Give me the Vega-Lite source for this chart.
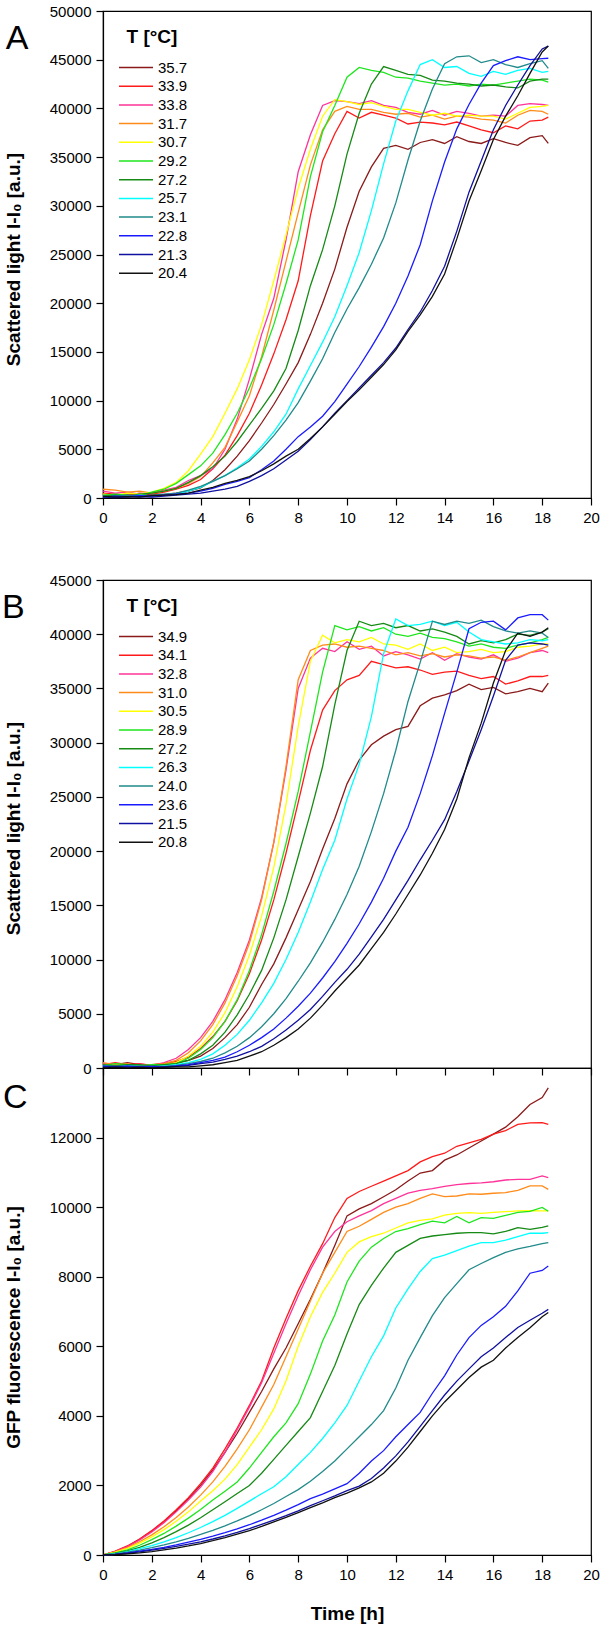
{
"$schema":"https://vega.github.io/schema/vega-lite/v6.json",
"autosize":{"type":"pad"},
"padding":{"left":1,"top":3,"right":1,"bottom":2},
"background":"white",
"bounds":"flush",
"spacing":82,
"config":{
"font":"Liberation Sans",
"view":{"stroke":"#000","strokeWidth":1.2},
"axis":{"grid":false,"domainColor":"#000","tickColor":"#000","labelColor":"#000","titleColor":"#000","labelFont":"Liberation Sans","titleFont":"Liberation Sans","labelFontSize":15,"titleFontSize":19,"titleFontWeight":"bold","tickSize":7,"labelPadding":5,"labelFlush":false,"labelOverlap":false,"domainWidth":1.2,"tickWidth":1.2},
"axisY":{"titleX":-80,"labelPadding":5},
"axisX":{"titlePadding":22,"labelPadding":5},
"legend":{"orient":"none","legendX":23.5,"legendY":17,"padding":0,"titleFontSize":19,"titleFontWeight":"bold","titleColor":"#000","titleFont":"Liberation Sans","labelFont":"Liberation Sans","labelFontSize":15,"labelColor":"#000","symbolType":"M-2,0H2","symbolSize":289,"symbolStrokeWidth":1.5,"rowPadding":0.7,"labelOffset":12.5,"titlePadding":11},
"text":{"font":"Liberation Sans"}
},
"resolve":{"scale":{"color":"independent"},"legend":{"color":"independent"}},
"datasets":{
"A":[
{"s":"35.7","t":0,"v":300},{"s":"35.7","t":0.5,"v":200},{"s":"35.7","t":1,"v":350},{"s":"35.7","t":1.5,"v":250},{"s":"35.7","t":2,"v":400},{"s":"35.7","t":2.5,"v":350},{"s":"35.7","t":3,"v":500},{"s":"35.7","t":3.5,"v":700},{"s":"35.7","t":4,"v":1050},{"s":"35.7","t":4.5,"v":1800},{"s":"35.7","t":5,"v":2900},{"s":"35.7","t":5.5,"v":4300},{"s":"35.7","t":6,"v":5900},{"s":"35.7","t":6.5,"v":7700},{"s":"35.7","t":7,"v":9600},{"s":"35.7","t":7.5,"v":11700},{"s":"35.7","t":8,"v":13900},{"s":"35.7","t":8.5,"v":16800},{"s":"35.7","t":9,"v":20000},{"s":"35.7","t":9.5,"v":23500},{"s":"35.7","t":10,"v":27800},{"s":"35.7","t":10.5,"v":31500},{"s":"35.7","t":11,"v":34000},{"s":"35.7","t":11.5,"v":35900},{"s":"35.7","t":12,"v":36200},{"s":"35.7","t":12.5,"v":35800},{"s":"35.7","t":13,"v":36500},{"s":"35.7","t":13.5,"v":36800},{"s":"35.7","t":14,"v":36400},{"s":"35.7","t":14.5,"v":37100},{"s":"35.7","t":15,"v":36600},{"s":"35.7","t":15.5,"v":36400},{"s":"35.7","t":16,"v":36900},{"s":"35.7","t":16.5,"v":36500},{"s":"35.7","t":17,"v":36200},{"s":"35.7","t":17.5,"v":37000},{"s":"35.7","t":18,"v":37200},{"s":"35.7","t":18.25,"v":36400},
{"s":"33.9","t":0,"v":500},{"s":"33.9","t":0.5,"v":400},{"s":"33.9","t":1,"v":300},{"s":"33.9","t":1.5,"v":500},{"s":"33.9","t":2,"v":400},{"s":"33.9","t":2.5,"v":600},{"s":"33.9","t":3,"v":900},{"s":"33.9","t":3.5,"v":1300},{"s":"33.9","t":4,"v":1900},{"s":"33.9","t":4.5,"v":3000},{"s":"33.9","t":5,"v":4400},{"s":"33.9","t":5.5,"v":6400},{"s":"33.9","t":6,"v":8700},{"s":"33.9","t":6.5,"v":11600},{"s":"33.9","t":7,"v":14800},{"s":"33.9","t":7.5,"v":18300},{"s":"33.9","t":8,"v":22300},{"s":"33.9","t":8.5,"v":29000},{"s":"33.9","t":9,"v":34600},{"s":"33.9","t":9.5,"v":37400},{"s":"33.9","t":10,"v":39700},{"s":"33.9","t":10.5,"v":39000},{"s":"33.9","t":11,"v":39600},{"s":"33.9","t":11.5,"v":39300},{"s":"33.9","t":12,"v":39000},{"s":"33.9","t":12.5,"v":38400},{"s":"33.9","t":13,"v":38600},{"s":"33.9","t":13.5,"v":38500},{"s":"33.9","t":14,"v":38300},{"s":"33.9","t":14.5,"v":38600},{"s":"33.9","t":15,"v":38200},{"s":"33.9","t":15.5,"v":37800},{"s":"33.9","t":16,"v":37500},{"s":"33.9","t":16.5,"v":38200},{"s":"33.9","t":17,"v":37900},{"s":"33.9","t":17.5,"v":38700},{"s":"33.9","t":18,"v":38800},{"s":"33.9","t":18.25,"v":39100},
{"s":"33.8","t":0,"v":700},{"s":"33.8","t":0.5,"v":500},{"s":"33.8","t":1,"v":600},{"s":"33.8","t":1.5,"v":400},{"s":"33.8","t":2,"v":500},{"s":"33.8","t":2.5,"v":800},{"s":"33.8","t":3,"v":1100},{"s":"33.8","t":3.5,"v":1800},{"s":"33.8","t":4,"v":2300},{"s":"33.8","t":4.5,"v":3000},{"s":"33.8","t":5,"v":5000},{"s":"33.8","t":5.5,"v":8100},{"s":"33.8","t":6,"v":12200},{"s":"33.8","t":6.5,"v":16800},{"s":"33.8","t":7,"v":20500},{"s":"33.8","t":7.5,"v":26500},{"s":"33.8","t":8,"v":33500},{"s":"33.8","t":8.5,"v":37300},{"s":"33.8","t":9,"v":40300},{"s":"33.8","t":9.5,"v":40800},{"s":"33.8","t":10,"v":40700},{"s":"33.8","t":10.5,"v":40500},{"s":"33.8","t":11,"v":40800},{"s":"33.8","t":11.5,"v":40300},{"s":"33.8","t":12,"v":40100},{"s":"33.8","t":12.5,"v":39600},{"s":"33.8","t":13,"v":39400},{"s":"33.8","t":13.5,"v":39800},{"s":"33.8","t":14,"v":39300},{"s":"33.8","t":14.5,"v":39700},{"s":"33.8","t":15,"v":39500},{"s":"33.8","t":15.5,"v":39200},{"s":"33.8","t":16,"v":39300},{"s":"33.8","t":16.5,"v":39200},{"s":"33.8","t":17,"v":40300},{"s":"33.8","t":17.5,"v":40500},{"s":"33.8","t":18,"v":40400},{"s":"33.8","t":18.25,"v":40300},
{"s":"31.7","t":0,"v":900},{"s":"31.7","t":0.5,"v":800},{"s":"31.7","t":1,"v":600},{"s":"31.7","t":1.5,"v":700},{"s":"31.7","t":2,"v":500},{"s":"31.7","t":2.5,"v":700},{"s":"31.7","t":3,"v":1000},{"s":"31.7","t":3.5,"v":1500},{"s":"31.7","t":4,"v":2200},{"s":"31.7","t":4.5,"v":3600},{"s":"31.7","t":5,"v":5200},{"s":"31.7","t":5.5,"v":7800},{"s":"31.7","t":6,"v":10500},{"s":"31.7","t":6.5,"v":14500},{"s":"31.7","t":7,"v":19300},{"s":"31.7","t":7.5,"v":24300},{"s":"31.7","t":8,"v":29300},{"s":"31.7","t":8.5,"v":34200},{"s":"31.7","t":9,"v":37800},{"s":"31.7","t":9.5,"v":39700},{"s":"31.7","t":10,"v":40200},{"s":"31.7","t":10.5,"v":39900},{"s":"31.7","t":11,"v":39900},{"s":"31.7","t":11.5,"v":39600},{"s":"31.7","t":12,"v":39400},{"s":"31.7","t":12.5,"v":39500},{"s":"31.7","t":13,"v":39100},{"s":"31.7","t":13.5,"v":39300},{"s":"31.7","t":14,"v":38900},{"s":"31.7","t":14.5,"v":39200},{"s":"31.7","t":15,"v":39100},{"s":"31.7","t":15.5,"v":38900},{"s":"31.7","t":16,"v":38800},{"s":"31.7","t":16.5,"v":38500},{"s":"31.7","t":17,"v":39300},{"s":"31.7","t":17.5,"v":39800},{"s":"31.7","t":18,"v":39700},{"s":"31.7","t":18.25,"v":39400},
{"s":"30.7","t":0,"v":400},{"s":"30.7","t":0.5,"v":300},{"s":"30.7","t":1,"v":500},{"s":"30.7","t":1.5,"v":400},{"s":"30.7","t":2,"v":600},{"s":"30.7","t":2.5,"v":1000},{"s":"30.7","t":3,"v":1600},{"s":"30.7","t":3.5,"v":2800},{"s":"30.7","t":4,"v":4500},{"s":"30.7","t":4.5,"v":6300},{"s":"30.7","t":5,"v":8700},{"s":"30.7","t":5.5,"v":11200},{"s":"30.7","t":6,"v":14200},{"s":"30.7","t":6.5,"v":17800},{"s":"30.7","t":7,"v":22300},{"s":"30.7","t":7.5,"v":27000},{"s":"30.7","t":8,"v":31800},{"s":"30.7","t":8.5,"v":35800},{"s":"30.7","t":9,"v":39200},{"s":"30.7","t":9.5,"v":40900},{"s":"30.7","t":10,"v":40700},{"s":"30.7","t":10.5,"v":40400},{"s":"30.7","t":11,"v":40600},{"s":"30.7","t":11.5,"v":40200},{"s":"30.7","t":12,"v":39900},{"s":"30.7","t":12.5,"v":39900},{"s":"30.7","t":13,"v":39600},{"s":"30.7","t":13.5,"v":39300},{"s":"30.7","t":14,"v":39500},{"s":"30.7","t":14.5,"v":39200},{"s":"30.7","t":15,"v":39300},{"s":"30.7","t":15.5,"v":39200},{"s":"30.7","t":16,"v":39200},{"s":"30.7","t":16.5,"v":38900},{"s":"30.7","t":17,"v":39500},{"s":"30.7","t":17.5,"v":40100},{"s":"30.7","t":18,"v":40200},{"s":"30.7","t":18.25,"v":40300},
{"s":"29.2","t":0,"v":300},{"s":"29.2","t":0.5,"v":400},{"s":"29.2","t":1,"v":300},{"s":"29.2","t":1.5,"v":200},{"s":"29.2","t":2,"v":600},{"s":"29.2","t":2.5,"v":900},{"s":"29.2","t":3,"v":1500},{"s":"29.2","t":3.5,"v":2400},{"s":"29.2","t":4,"v":3300},{"s":"29.2","t":4.5,"v":4600},{"s":"29.2","t":5,"v":6500},{"s":"29.2","t":5.5,"v":8700},{"s":"29.2","t":6,"v":11300},{"s":"29.2","t":6.5,"v":14300},{"s":"29.2","t":7,"v":17800},{"s":"29.2","t":7.5,"v":22000},{"s":"29.2","t":8,"v":26500},{"s":"29.2","t":8.5,"v":33000},{"s":"29.2","t":9,"v":37600},{"s":"29.2","t":9.5,"v":40300},{"s":"29.2","t":10,"v":43200},{"s":"29.2","t":10.5,"v":44200},{"s":"29.2","t":11,"v":43900},{"s":"29.2","t":11.5,"v":43700},{"s":"29.2","t":12,"v":43200},{"s":"29.2","t":12.5,"v":43100},{"s":"29.2","t":13,"v":42800},{"s":"29.2","t":13.5,"v":42600},{"s":"29.2","t":14,"v":42400},{"s":"29.2","t":14.5,"v":42500},{"s":"29.2","t":15,"v":42300},{"s":"29.2","t":15.5,"v":42500},{"s":"29.2","t":16,"v":42400},{"s":"29.2","t":16.5,"v":42600},{"s":"29.2","t":17,"v":42800},{"s":"29.2","t":17.5,"v":43000},{"s":"29.2","t":18,"v":42900},{"s":"29.2","t":18.25,"v":42700},
{"s":"27.2","t":0,"v":200},{"s":"27.2","t":0.5,"v":300},{"s":"27.2","t":1,"v":200},{"s":"27.2","t":1.5,"v":400},{"s":"27.2","t":2,"v":500},{"s":"27.2","t":2.5,"v":700},{"s":"27.2","t":3,"v":1000},{"s":"27.2","t":3.5,"v":1600},{"s":"27.2","t":4,"v":2300},{"s":"27.2","t":4.5,"v":3200},{"s":"27.2","t":5,"v":4300},{"s":"27.2","t":5.5,"v":5800},{"s":"27.2","t":6,"v":7500},{"s":"27.2","t":6.5,"v":9200},{"s":"27.2","t":7,"v":11000},{"s":"27.2","t":7.5,"v":13300},{"s":"27.2","t":8,"v":17200},{"s":"27.2","t":8.5,"v":21800},{"s":"27.2","t":9,"v":25500},{"s":"27.2","t":9.5,"v":30000},{"s":"27.2","t":10,"v":35300},{"s":"27.2","t":10.5,"v":39500},{"s":"27.2","t":11,"v":42500},{"s":"27.2","t":11.5,"v":44300},{"s":"27.2","t":12,"v":43900},{"s":"27.2","t":12.5,"v":43500},{"s":"27.2","t":13,"v":43400},{"s":"27.2","t":13.5,"v":42900},{"s":"27.2","t":14,"v":42800},{"s":"27.2","t":14.5,"v":42600},{"s":"27.2","t":15,"v":42500},{"s":"27.2","t":15.5,"v":42300},{"s":"27.2","t":16,"v":42400},{"s":"27.2","t":16.5,"v":42200},{"s":"27.2","t":17,"v":42100},{"s":"27.2","t":17.5,"v":42800},{"s":"27.2","t":18,"v":43000},{"s":"27.2","t":18.25,"v":43000},
{"s":"25.7","t":0,"v":200},{"s":"25.7","t":0.5,"v":100},{"s":"25.7","t":1,"v":200},{"s":"25.7","t":1.5,"v":300},{"s":"25.7","t":2,"v":200},{"s":"25.7","t":2.5,"v":300},{"s":"25.7","t":3,"v":400},{"s":"25.7","t":3.5,"v":700},{"s":"25.7","t":4,"v":1100},{"s":"25.7","t":4.5,"v":1700},{"s":"25.7","t":5,"v":2300},{"s":"25.7","t":5.5,"v":3100},{"s":"25.7","t":6,"v":4000},{"s":"25.7","t":6.5,"v":5300},{"s":"25.7","t":7,"v":6800},{"s":"25.7","t":7.5,"v":8600},{"s":"25.7","t":8,"v":11200},{"s":"25.7","t":8.5,"v":13600},{"s":"25.7","t":9,"v":16000},{"s":"25.7","t":9.5,"v":18600},{"s":"25.7","t":10,"v":21800},{"s":"25.7","t":10.5,"v":25200},{"s":"25.7","t":11,"v":29500},{"s":"25.7","t":11.5,"v":34300},{"s":"25.7","t":12,"v":38700},{"s":"25.7","t":12.5,"v":41800},{"s":"25.7","t":13,"v":44500},{"s":"25.7","t":13.5,"v":45000},{"s":"25.7","t":14,"v":44200},{"s":"25.7","t":14.5,"v":44300},{"s":"25.7","t":15,"v":43600},{"s":"25.7","t":15.5,"v":43300},{"s":"25.7","t":16,"v":43800},{"s":"25.7","t":16.5,"v":43500},{"s":"25.7","t":17,"v":43900},{"s":"25.7","t":17.5,"v":44100},{"s":"25.7","t":18,"v":43700},{"s":"25.7","t":18.25,"v":43800},
{"s":"23.1","t":0,"v":100},{"s":"23.1","t":0.5,"v":200},{"s":"23.1","t":1,"v":300},{"s":"23.1","t":1.5,"v":200},{"s":"23.1","t":2,"v":300},{"s":"23.1","t":2.5,"v":400},{"s":"23.1","t":3,"v":500},{"s":"23.1","t":3.5,"v":800},{"s":"23.1","t":4,"v":1200},{"s":"23.1","t":4.5,"v":1700},{"s":"23.1","t":5,"v":2300},{"s":"23.1","t":5.5,"v":3000},{"s":"23.1","t":6,"v":3800},{"s":"23.1","t":6.5,"v":5000},{"s":"23.1","t":7,"v":6400},{"s":"23.1","t":7.5,"v":8000},{"s":"23.1","t":8,"v":9800},{"s":"23.1","t":8.5,"v":12000},{"s":"23.1","t":9,"v":14300},{"s":"23.1","t":9.5,"v":17000},{"s":"23.1","t":10,"v":19400},{"s":"23.1","t":10.5,"v":21600},{"s":"23.1","t":11,"v":24000},{"s":"23.1","t":11.5,"v":26700},{"s":"23.1","t":12,"v":30300},{"s":"23.1","t":12.5,"v":34700},{"s":"23.1","t":13,"v":38700},{"s":"23.1","t":13.5,"v":42000},{"s":"23.1","t":14,"v":44600},{"s":"23.1","t":14.5,"v":45300},{"s":"23.1","t":15,"v":45400},{"s":"23.1","t":15.5,"v":44700},{"s":"23.1","t":16,"v":45000},{"s":"23.1","t":16.5,"v":44500},{"s":"23.1","t":17,"v":44200},{"s":"23.1","t":17.5,"v":44600},{"s":"23.1","t":18,"v":44900},{"s":"23.1","t":18.25,"v":44100},
{"s":"22.8","t":0,"v":100},{"s":"22.8","t":0.5,"v":200},{"s":"22.8","t":1,"v":150},{"s":"22.8","t":1.5,"v":250},{"s":"22.8","t":2,"v":200},{"s":"22.8","t":2.5,"v":300},{"s":"22.8","t":3,"v":400},{"s":"22.8","t":3.5,"v":500},{"s":"22.8","t":4,"v":700},{"s":"22.8","t":4.5,"v":1000},{"s":"22.8","t":5,"v":1400},{"s":"22.8","t":5.5,"v":1700},{"s":"22.8","t":6,"v":2100},{"s":"22.8","t":6.5,"v":2900},{"s":"22.8","t":7,"v":3800},{"s":"22.8","t":7.5,"v":5000},{"s":"22.8","t":8,"v":6300},{"s":"22.8","t":8.5,"v":7300},{"s":"22.8","t":9,"v":8400},{"s":"22.8","t":9.5,"v":9900},{"s":"22.8","t":10,"v":11700},{"s":"22.8","t":10.5,"v":13500},{"s":"22.8","t":11,"v":15500},{"s":"22.8","t":11.5,"v":17600},{"s":"22.8","t":12,"v":20000},{"s":"22.8","t":12.5,"v":22800},{"s":"22.8","t":13,"v":26000},{"s":"22.8","t":13.5,"v":30500},{"s":"22.8","t":14,"v":34500},{"s":"22.8","t":14.5,"v":37900},{"s":"22.8","t":15,"v":40400},{"s":"22.8","t":15.5,"v":42600},{"s":"22.8","t":16,"v":44400},{"s":"22.8","t":16.5,"v":44900},{"s":"22.8","t":17,"v":45300},{"s":"22.8","t":17.5,"v":45000},{"s":"22.8","t":18,"v":45100},{"s":"22.8","t":18.25,"v":45150},
{"s":"21.3","t":0,"v":100},{"s":"21.3","t":0.5,"v":50},{"s":"21.3","t":1,"v":100},{"s":"21.3","t":1.5,"v":150},{"s":"21.3","t":2,"v":100},{"s":"21.3","t":2.5,"v":200},{"s":"21.3","t":3,"v":300},{"s":"21.3","t":3.5,"v":400},{"s":"21.3","t":4,"v":500},{"s":"21.3","t":4.5,"v":700},{"s":"21.3","t":5,"v":900},{"s":"21.3","t":5.5,"v":1200},{"s":"21.3","t":6,"v":1700},{"s":"21.3","t":6.5,"v":2300},{"s":"21.3","t":7,"v":3000},{"s":"21.3","t":7.5,"v":3900},{"s":"21.3","t":8,"v":4800},{"s":"21.3","t":8.5,"v":6000},{"s":"21.3","t":9,"v":7300},{"s":"21.3","t":9.5,"v":8700},{"s":"21.3","t":10,"v":10000},{"s":"21.3","t":10.5,"v":11300},{"s":"21.3","t":11,"v":12600},{"s":"21.3","t":11.5,"v":13900},{"s":"21.3","t":12,"v":15400},{"s":"21.3","t":12.5,"v":17300},{"s":"21.3","t":13,"v":19100},{"s":"21.3","t":13.5,"v":21300},{"s":"21.3","t":14,"v":23800},{"s":"21.3","t":14.5,"v":27400},{"s":"21.3","t":15,"v":31400},{"s":"21.3","t":15.5,"v":34600},{"s":"21.3","t":16,"v":37800},{"s":"21.3","t":16.5,"v":40300},{"s":"21.3","t":17,"v":42400},{"s":"21.3","t":17.5,"v":44400},{"s":"21.3","t":18,"v":46100},{"s":"21.3","t":18.25,"v":46400},
{"s":"20.4","t":0,"v":200},{"s":"20.4","t":0.5,"v":100},{"s":"20.4","t":1,"v":150},{"s":"20.4","t":1.5,"v":100},{"s":"20.4","t":2,"v":250},{"s":"20.4","t":2.5,"v":300},{"s":"20.4","t":3,"v":350},{"s":"20.4","t":3.5,"v":500},{"s":"20.4","t":4,"v":800},{"s":"20.4","t":4.5,"v":1100},{"s":"20.4","t":5,"v":1500},{"s":"20.4","t":5.5,"v":1800},{"s":"20.4","t":6,"v":2200},{"s":"20.4","t":6.5,"v":2800},{"s":"20.4","t":7,"v":3500},{"s":"20.4","t":7.5,"v":4300},{"s":"20.4","t":8,"v":5000},{"s":"20.4","t":8.5,"v":6100},{"s":"20.4","t":9,"v":7300},{"s":"20.4","t":9.5,"v":8600},{"s":"20.4","t":10,"v":9900},{"s":"20.4","t":10.5,"v":11100},{"s":"20.4","t":11,"v":12400},{"s":"20.4","t":11.5,"v":13700},{"s":"20.4","t":12,"v":15200},{"s":"20.4","t":12.5,"v":17100},{"s":"20.4","t":13,"v":18800},{"s":"20.4","t":13.5,"v":20700},{"s":"20.4","t":14,"v":23000},{"s":"20.4","t":14.5,"v":26600},{"s":"20.4","t":15,"v":30500},{"s":"20.4","t":15.5,"v":33600},{"s":"20.4","t":16,"v":36800},{"s":"20.4","t":16.5,"v":39200},{"s":"20.4","t":17,"v":41300},{"s":"20.4","t":17.5,"v":43600},{"s":"20.4","t":18,"v":45800},{"s":"20.4","t":18.25,"v":46400}
],
"B":[
{"s":"34.9","t":0,"v":400},{"s":"34.9","t":0.5,"v":300},{"s":"34.9","t":1,"v":500},{"s":"34.9","t":1.5,"v":300},{"s":"34.9","t":2,"v":300},{"s":"34.9","t":2.5,"v":400},{"s":"34.9","t":3,"v":500},{"s":"34.9","t":3.5,"v":700},{"s":"34.9","t":4,"v":1100},{"s":"34.9","t":4.5,"v":1800},{"s":"34.9","t":5,"v":2800},{"s":"34.9","t":5.5,"v":4000},{"s":"34.9","t":6,"v":5600},{"s":"34.9","t":6.5,"v":7700},{"s":"34.9","t":7,"v":9600},{"s":"34.9","t":7.5,"v":12000},{"s":"34.9","t":8,"v":14600},{"s":"34.9","t":8.5,"v":17200},{"s":"34.9","t":9,"v":20200},{"s":"34.9","t":9.5,"v":23000},{"s":"34.9","t":10,"v":26200},{"s":"34.9","t":10.5,"v":28400},{"s":"34.9","t":11,"v":29800},{"s":"34.9","t":11.5,"v":30600},{"s":"34.9","t":12,"v":31200},{"s":"34.9","t":12.5,"v":31500},{"s":"34.9","t":13,"v":33400},{"s":"34.9","t":13.5,"v":34100},{"s":"34.9","t":14,"v":34400},{"s":"34.9","t":14.5,"v":34800},{"s":"34.9","t":15,"v":35400},{"s":"34.9","t":15.5,"v":34900},{"s":"34.9","t":16,"v":35100},{"s":"34.9","t":16.5,"v":34500},{"s":"34.9","t":17,"v":34700},{"s":"34.9","t":17.5,"v":35000},{"s":"34.9","t":18,"v":34700},{"s":"34.9","t":18.25,"v":35500},
{"s":"34.1","t":0,"v":300},{"s":"34.1","t":0.5,"v":500},{"s":"34.1","t":1,"v":300},{"s":"34.1","t":1.5,"v":400},{"s":"34.1","t":2,"v":250},{"s":"34.1","t":2.5,"v":400},{"s":"34.1","t":3,"v":600},{"s":"34.1","t":3.5,"v":1000},{"s":"34.1","t":4,"v":1800},{"s":"34.1","t":4.5,"v":2900},{"s":"34.1","t":5,"v":4300},{"s":"34.1","t":5.5,"v":6200},{"s":"34.1","t":6,"v":8700},{"s":"34.1","t":6.5,"v":11800},{"s":"34.1","t":7,"v":15500},{"s":"34.1","t":7.5,"v":19800},{"s":"34.1","t":8,"v":24500},{"s":"34.1","t":8.5,"v":29300},{"s":"34.1","t":9,"v":33000},{"s":"34.1","t":9.5,"v":34800},{"s":"34.1","t":10,"v":35800},{"s":"34.1","t":10.5,"v":36200},{"s":"34.1","t":11,"v":37500},{"s":"34.1","t":11.5,"v":37200},{"s":"34.1","t":12,"v":36900},{"s":"34.1","t":12.5,"v":37000},{"s":"34.1","t":13,"v":36700},{"s":"34.1","t":13.5,"v":36300},{"s":"34.1","t":14,"v":36500},{"s":"34.1","t":14.5,"v":36600},{"s":"34.1","t":15,"v":36200},{"s":"34.1","t":15.5,"v":35900},{"s":"34.1","t":16,"v":36100},{"s":"34.1","t":16.5,"v":35400},{"s":"34.1","t":17,"v":35700},{"s":"34.1","t":17.5,"v":36100},{"s":"34.1","t":18,"v":36100},{"s":"34.1","t":18.25,"v":36200},
{"s":"32.8","t":0,"v":400},{"s":"32.8","t":0.5,"v":300},{"s":"32.8","t":1,"v":200},{"s":"32.8","t":1.5,"v":350},{"s":"32.8","t":2,"v":250},{"s":"32.8","t":2.5,"v":500},{"s":"32.8","t":3,"v":900},{"s":"32.8","t":3.5,"v":1700},{"s":"32.8","t":4,"v":2800},{"s":"32.8","t":4.5,"v":4300},{"s":"32.8","t":5,"v":6300},{"s":"32.8","t":5.5,"v":8800},{"s":"32.8","t":6,"v":11800},{"s":"32.8","t":6.5,"v":15700},{"s":"32.8","t":7,"v":20800},{"s":"32.8","t":7.5,"v":27500},{"s":"32.8","t":8,"v":35000},{"s":"32.8","t":8.5,"v":37800},{"s":"32.8","t":9,"v":38700},{"s":"32.8","t":9.5,"v":38400},{"s":"32.8","t":10,"v":39300},{"s":"32.8","t":10.5,"v":38600},{"s":"32.8","t":11,"v":38900},{"s":"32.8","t":11.5,"v":38000},{"s":"32.8","t":12,"v":38400},{"s":"32.8","t":12.5,"v":38100},{"s":"32.8","t":13,"v":37700},{"s":"32.8","t":13.5,"v":38300},{"s":"32.8","t":14,"v":37600},{"s":"32.8","t":14.5,"v":38200},{"s":"32.8","t":15,"v":37900},{"s":"32.8","t":15.5,"v":37700},{"s":"32.8","t":16,"v":38100},{"s":"32.8","t":16.5,"v":37500},{"s":"32.8","t":17,"v":37800},{"s":"32.8","t":17.5,"v":38300},{"s":"32.8","t":18,"v":38500},{"s":"32.8","t":18.25,"v":38300},
{"s":"31.0","t":0,"v":500},{"s":"31.0","t":0.5,"v":300},{"s":"31.0","t":1,"v":400},{"s":"31.0","t":1.5,"v":200},{"s":"31.0","t":2,"v":300},{"s":"31.0","t":2.5,"v":400},{"s":"31.0","t":3,"v":700},{"s":"31.0","t":3.5,"v":1400},{"s":"31.0","t":4,"v":2500},{"s":"31.0","t":4.5,"v":4000},{"s":"31.0","t":5,"v":6000},{"s":"31.0","t":5.5,"v":8500},{"s":"31.0","t":6,"v":11500},{"s":"31.0","t":6.5,"v":15500},{"s":"31.0","t":7,"v":20800},{"s":"31.0","t":7.5,"v":27800},{"s":"31.0","t":8,"v":35800},{"s":"31.0","t":8.5,"v":38500},{"s":"31.0","t":9,"v":39000},{"s":"31.0","t":9.5,"v":39100},{"s":"31.0","t":10,"v":38800},{"s":"31.0","t":10.5,"v":38900},{"s":"31.0","t":11,"v":38700},{"s":"31.0","t":11.5,"v":38500},{"s":"31.0","t":12,"v":38100},{"s":"31.0","t":12.5,"v":38300},{"s":"31.0","t":13,"v":38000},{"s":"31.0","t":13.5,"v":38200},{"s":"31.0","t":14,"v":37900},{"s":"31.0","t":14.5,"v":38100},{"s":"31.0","t":15,"v":38000},{"s":"31.0","t":15.5,"v":37800},{"s":"31.0","t":16,"v":37900},{"s":"31.0","t":16.5,"v":37600},{"s":"31.0","t":17,"v":37900},{"s":"31.0","t":17.5,"v":38300},{"s":"31.0","t":18,"v":38700},{"s":"31.0","t":18.25,"v":38900},
{"s":"30.5","t":0,"v":300},{"s":"30.5","t":0.5,"v":200},{"s":"30.5","t":1,"v":300},{"s":"30.5","t":1.5,"v":250},{"s":"30.5","t":2,"v":200},{"s":"30.5","t":2.5,"v":300},{"s":"30.5","t":3,"v":500},{"s":"30.5","t":3.5,"v":1100},{"s":"30.5","t":4,"v":2000},{"s":"30.5","t":4.5,"v":3300},{"s":"30.5","t":5,"v":5100},{"s":"30.5","t":5.5,"v":7500},{"s":"30.5","t":6,"v":10400},{"s":"30.5","t":6.5,"v":14000},{"s":"30.5","t":7,"v":18500},{"s":"30.5","t":7.5,"v":24300},{"s":"30.5","t":8,"v":31500},{"s":"30.5","t":8.5,"v":37500},{"s":"30.5","t":9,"v":39900},{"s":"30.5","t":9.5,"v":39200},{"s":"30.5","t":10,"v":39500},{"s":"30.5","t":10.5,"v":39300},{"s":"30.5","t":11,"v":39700},{"s":"30.5","t":11.5,"v":39100},{"s":"30.5","t":12,"v":39000},{"s":"30.5","t":12.5,"v":38600},{"s":"30.5","t":13,"v":39100},{"s":"30.5","t":13.5,"v":38500},{"s":"30.5","t":14,"v":38800},{"s":"30.5","t":14.5,"v":38300},{"s":"30.5","t":15,"v":38400},{"s":"30.5","t":15.5,"v":38600},{"s":"30.5","t":16,"v":38300},{"s":"30.5","t":16.5,"v":38400},{"s":"30.5","t":17,"v":38800},{"s":"30.5","t":17.5,"v":38900},{"s":"30.5","t":18,"v":39100},{"s":"30.5","t":18.25,"v":39100},
{"s":"28.9","t":0,"v":200},{"s":"28.9","t":0.5,"v":400},{"s":"28.9","t":1,"v":300},{"s":"28.9","t":1.5,"v":200},{"s":"28.9","t":2,"v":300},{"s":"28.9","t":2.5,"v":300},{"s":"28.9","t":3,"v":400},{"s":"28.9","t":3.5,"v":900},{"s":"28.9","t":4,"v":1700},{"s":"28.9","t":4.5,"v":2800},{"s":"28.9","t":5,"v":4300},{"s":"28.9","t":5.5,"v":6300},{"s":"28.9","t":6,"v":9000},{"s":"28.9","t":6.5,"v":12300},{"s":"28.9","t":7,"v":16300},{"s":"28.9","t":7.5,"v":20700},{"s":"28.9","t":8,"v":25500},{"s":"28.9","t":8.5,"v":31000},{"s":"28.9","t":9,"v":36500},{"s":"28.9","t":9.5,"v":40800},{"s":"28.9","t":10,"v":40400},{"s":"28.9","t":10.5,"v":40700},{"s":"28.9","t":11,"v":40300},{"s":"28.9","t":11.5,"v":40600},{"s":"28.9","t":12,"v":40000},{"s":"28.9","t":12.5,"v":39800},{"s":"28.9","t":13,"v":40100},{"s":"28.9","t":13.5,"v":39700},{"s":"28.9","t":14,"v":39600},{"s":"28.9","t":14.5,"v":39300},{"s":"28.9","t":15,"v":38900},{"s":"28.9","t":15.5,"v":39100},{"s":"28.9","t":16,"v":38800},{"s":"28.9","t":16.5,"v":38700},{"s":"28.9","t":17,"v":39000},{"s":"28.9","t":17.5,"v":39200},{"s":"28.9","t":18,"v":39500},{"s":"28.9","t":18.25,"v":39700},
{"s":"27.2","t":0,"v":300},{"s":"27.2","t":0.5,"v":200},{"s":"27.2","t":1,"v":300},{"s":"27.2","t":1.5,"v":300},{"s":"27.2","t":2,"v":200},{"s":"27.2","t":2.5,"v":300},{"s":"27.2","t":3,"v":400},{"s":"27.2","t":3.5,"v":700},{"s":"27.2","t":4,"v":1300},{"s":"27.2","t":4.5,"v":2100},{"s":"27.2","t":5,"v":3300},{"s":"27.2","t":5.5,"v":4900},{"s":"27.2","t":6,"v":6800},{"s":"27.2","t":6.5,"v":9000},{"s":"27.2","t":7,"v":12000},{"s":"27.2","t":7.5,"v":15500},{"s":"27.2","t":8,"v":19500},{"s":"27.2","t":8.5,"v":23500},{"s":"27.2","t":9,"v":27800},{"s":"27.2","t":9.5,"v":33500},{"s":"27.2","t":10,"v":38500},{"s":"27.2","t":10.5,"v":41200},{"s":"27.2","t":11,"v":40800},{"s":"27.2","t":11.5,"v":41000},{"s":"27.2","t":12,"v":40600},{"s":"27.2","t":12.5,"v":40800},{"s":"27.2","t":13,"v":40300},{"s":"27.2","t":13.5,"v":40500},{"s":"27.2","t":14,"v":40200},{"s":"27.2","t":14.5,"v":39800},{"s":"27.2","t":15,"v":39100},{"s":"27.2","t":15.5,"v":39400},{"s":"27.2","t":16,"v":39200},{"s":"27.2","t":16.5,"v":39500},{"s":"27.2","t":17,"v":40000},{"s":"27.2","t":17.5,"v":39900},{"s":"27.2","t":18,"v":40200},{"s":"27.2","t":18.25,"v":40500},
{"s":"26.3","t":0,"v":200},{"s":"26.3","t":0.5,"v":100},{"s":"26.3","t":1,"v":200},{"s":"26.3","t":1.5,"v":150},{"s":"26.3","t":2,"v":100},{"s":"26.3","t":2.5,"v":200},{"s":"26.3","t":3,"v":300},{"s":"26.3","t":3.5,"v":500},{"s":"26.3","t":4,"v":800},{"s":"26.3","t":4.5,"v":1300},{"s":"26.3","t":5,"v":2100},{"s":"26.3","t":5.5,"v":3100},{"s":"26.3","t":6,"v":4400},{"s":"26.3","t":6.5,"v":6000},{"s":"26.3","t":7,"v":7800},{"s":"26.3","t":7.5,"v":10000},{"s":"26.3","t":8,"v":12500},{"s":"26.3","t":8.5,"v":15300},{"s":"26.3","t":9,"v":18300},{"s":"26.3","t":9.5,"v":21000},{"s":"26.3","t":10,"v":24800},{"s":"26.3","t":10.5,"v":28000},{"s":"26.3","t":11,"v":32400},{"s":"26.3","t":11.5,"v":38200},{"s":"26.3","t":12,"v":41400},{"s":"26.3","t":12.5,"v":40800},{"s":"26.3","t":13,"v":40900},{"s":"26.3","t":13.5,"v":41200},{"s":"26.3","t":14,"v":40800},{"s":"26.3","t":14.5,"v":41100},{"s":"26.3","t":15,"v":40200},{"s":"26.3","t":15.5,"v":39500},{"s":"26.3","t":16,"v":39300},{"s":"26.3","t":16.5,"v":39100},{"s":"26.3","t":17,"v":39200},{"s":"26.3","t":17.5,"v":39500},{"s":"26.3","t":18,"v":39400},{"s":"26.3","t":18.25,"v":39500},
{"s":"24.0","t":0,"v":100},{"s":"24.0","t":0.5,"v":200},{"s":"24.0","t":1,"v":100},{"s":"24.0","t":1.5,"v":200},{"s":"24.0","t":2,"v":150},{"s":"24.0","t":2.5,"v":150},{"s":"24.0","t":3,"v":250},{"s":"24.0","t":3.5,"v":400},{"s":"24.0","t":4,"v":600},{"s":"24.0","t":4.5,"v":900},{"s":"24.0","t":5,"v":1400},{"s":"24.0","t":5.5,"v":2000},{"s":"24.0","t":6,"v":2800},{"s":"24.0","t":6.5,"v":3800},{"s":"24.0","t":7,"v":5000},{"s":"24.0","t":7.5,"v":6400},{"s":"24.0","t":8,"v":8000},{"s":"24.0","t":8.5,"v":9700},{"s":"24.0","t":9,"v":11600},{"s":"24.0","t":9.5,"v":13700},{"s":"24.0","t":10,"v":16000},{"s":"24.0","t":10.5,"v":18600},{"s":"24.0","t":11,"v":21800},{"s":"24.0","t":11.5,"v":25300},{"s":"24.0","t":12,"v":29300},{"s":"24.0","t":12.5,"v":33800},{"s":"24.0","t":13,"v":37400},{"s":"24.0","t":13.5,"v":41200},{"s":"24.0","t":14,"v":40900},{"s":"24.0","t":14.5,"v":41200},{"s":"24.0","t":15,"v":41000},{"s":"24.0","t":15.5,"v":41300},{"s":"24.0","t":16,"v":40700},{"s":"24.0","t":16.5,"v":40300},{"s":"24.0","t":17,"v":40100},{"s":"24.0","t":17.5,"v":40300},{"s":"24.0","t":18,"v":40100},{"s":"24.0","t":18.25,"v":39700},
{"s":"23.6","t":0,"v":200},{"s":"23.6","t":0.5,"v":100},{"s":"23.6","t":1,"v":200},{"s":"23.6","t":1.5,"v":100},{"s":"23.6","t":2,"v":150},{"s":"23.6","t":2.5,"v":100},{"s":"23.6","t":3,"v":200},{"s":"23.6","t":3.5,"v":300},{"s":"23.6","t":4,"v":500},{"s":"23.6","t":4.5,"v":700},{"s":"23.6","t":5,"v":1000},{"s":"23.6","t":5.5,"v":1500},{"s":"23.6","t":6,"v":2100},{"s":"23.6","t":6.5,"v":2800},{"s":"23.6","t":7,"v":3600},{"s":"23.6","t":7.5,"v":4600},{"s":"23.6","t":8,"v":5700},{"s":"23.6","t":8.5,"v":6900},{"s":"23.6","t":9,"v":8300},{"s":"23.6","t":9.5,"v":9800},{"s":"23.6","t":10,"v":11500},{"s":"23.6","t":10.5,"v":13300},{"s":"23.6","t":11,"v":15300},{"s":"23.6","t":11.5,"v":17500},{"s":"23.6","t":12,"v":20000},{"s":"23.6","t":12.5,"v":22200},{"s":"23.6","t":13,"v":25300},{"s":"23.6","t":13.5,"v":28800},{"s":"23.6","t":14,"v":32700},{"s":"23.6","t":14.5,"v":36500},{"s":"23.6","t":15,"v":40500},{"s":"23.6","t":15.5,"v":41100},{"s":"23.6","t":16,"v":41200},{"s":"23.6","t":16.5,"v":40400},{"s":"23.6","t":17,"v":41500},{"s":"23.6","t":17.5,"v":41800},{"s":"23.6","t":18,"v":41800},{"s":"23.6","t":18.25,"v":41300},
{"s":"21.5","t":0,"v":100},{"s":"21.5","t":0.5,"v":150},{"s":"21.5","t":1,"v":100},{"s":"21.5","t":1.5,"v":100},{"s":"21.5","t":2,"v":50},{"s":"21.5","t":2.5,"v":100},{"s":"21.5","t":3,"v":150},{"s":"21.5","t":3.5,"v":250},{"s":"21.5","t":4,"v":400},{"s":"21.5","t":4.5,"v":550},{"s":"21.5","t":5,"v":800},{"s":"21.5","t":5.5,"v":1100},{"s":"21.5","t":6,"v":1500},{"s":"21.5","t":6.5,"v":2000},{"s":"21.5","t":7,"v":2700},{"s":"21.5","t":7.5,"v":3500},{"s":"21.5","t":8,"v":4400},{"s":"21.5","t":8.5,"v":5400},{"s":"21.5","t":9,"v":6600},{"s":"21.5","t":9.5,"v":7900},{"s":"21.5","t":10,"v":9100},{"s":"21.5","t":10.5,"v":10500},{"s":"21.5","t":11,"v":12100},{"s":"21.5","t":11.5,"v":13700},{"s":"21.5","t":12,"v":15500},{"s":"21.5","t":12.5,"v":17300},{"s":"21.5","t":13,"v":19200},{"s":"21.5","t":13.5,"v":21000},{"s":"21.5","t":14,"v":22900},{"s":"21.5","t":14.5,"v":25500},{"s":"21.5","t":15,"v":28300},{"s":"21.5","t":15.5,"v":31200},{"s":"21.5","t":16,"v":34300},{"s":"21.5","t":16.5,"v":37600},{"s":"21.5","t":17,"v":39000},{"s":"21.5","t":17.5,"v":39200},{"s":"21.5","t":18,"v":39100},{"s":"21.5","t":18.25,"v":39000},
{"s":"20.8","t":0,"v":0},{"s":"20.8","t":0.5,"v":50},{"s":"20.8","t":1,"v":0},{"s":"20.8","t":1.5,"v":50},{"s":"20.8","t":2,"v":0},{"s":"20.8","t":2.5,"v":50},{"s":"20.8","t":3,"v":100},{"s":"20.8","t":3.5,"v":100},{"s":"20.8","t":4,"v":200},{"s":"20.8","t":4.5,"v":300},{"s":"20.8","t":5,"v":500},{"s":"20.8","t":5.5,"v":700},{"s":"20.8","t":6,"v":1100},{"s":"20.8","t":6.5,"v":1500},{"s":"20.8","t":7,"v":2100},{"s":"20.8","t":7.5,"v":2800},{"s":"20.8","t":8,"v":3600},{"s":"20.8","t":8.5,"v":4600},{"s":"20.8","t":9,"v":5800},{"s":"20.8","t":9.5,"v":7100},{"s":"20.8","t":10,"v":8300},{"s":"20.8","t":10.5,"v":9500},{"s":"20.8","t":11,"v":11000},{"s":"20.8","t":11.5,"v":12500},{"s":"20.8","t":12,"v":14200},{"s":"20.8","t":12.5,"v":16000},{"s":"20.8","t":13,"v":17800},{"s":"20.8","t":13.5,"v":19800},{"s":"20.8","t":14,"v":22000},{"s":"20.8","t":14.5,"v":24800},{"s":"20.8","t":15,"v":28600},{"s":"20.8","t":15.5,"v":31800},{"s":"20.8","t":16,"v":35500},{"s":"20.8","t":16.5,"v":38500},{"s":"20.8","t":17,"v":40100},{"s":"20.8","t":17.5,"v":39800},{"s":"20.8","t":18,"v":40200},{"s":"20.8","t":18.25,"v":40600}
],
"C":[
{"s":"34.9","t":0,"v":0},{"s":"34.9","t":0.5,"v":100},{"s":"34.9","t":1,"v":250},{"s":"34.9","t":1.5,"v":450},{"s":"34.9","t":2,"v":690},{"s":"34.9","t":2.5,"v":960},{"s":"34.9","t":3,"v":1270},{"s":"34.9","t":3.5,"v":1620},{"s":"34.9","t":4,"v":2000},{"s":"34.9","t":4.5,"v":2450},{"s":"34.9","t":5,"v":2950},{"s":"34.9","t":5.5,"v":3500},{"s":"34.9","t":6,"v":4100},{"s":"34.9","t":6.5,"v":4700},{"s":"34.9","t":7,"v":5350},{"s":"34.9","t":7.5,"v":5950},{"s":"34.9","t":8,"v":6650},{"s":"34.9","t":8.5,"v":7350},{"s":"34.9","t":9,"v":8100},{"s":"34.9","t":9.5,"v":8900},{"s":"34.9","t":10,"v":9750},{"s":"34.9","t":10.5,"v":9950},{"s":"34.9","t":11,"v":10100},{"s":"34.9","t":11.5,"v":10300},{"s":"34.9","t":12,"v":10500},{"s":"34.9","t":12.5,"v":10750},{"s":"34.9","t":13,"v":10980},{"s":"34.9","t":13.5,"v":11050},{"s":"34.9","t":14,"v":11350},{"s":"34.9","t":14.5,"v":11500},{"s":"34.9","t":15,"v":11700},{"s":"34.9","t":15.5,"v":11900},{"s":"34.9","t":16,"v":12100},{"s":"34.9","t":16.5,"v":12300},{"s":"34.9","t":17,"v":12600},{"s":"34.9","t":17.5,"v":12950},{"s":"34.9","t":18,"v":13150},{"s":"34.9","t":18.25,"v":13430},
{"s":"34.1","t":0,"v":0},{"s":"34.1","t":0.5,"v":110},{"s":"34.1","t":1,"v":260},{"s":"34.1","t":1.5,"v":460},{"s":"34.1","t":2,"v":700},{"s":"34.1","t":2.5,"v":980},{"s":"34.1","t":3,"v":1300},{"s":"34.1","t":3.5,"v":1650},{"s":"34.1","t":4,"v":2050},{"s":"34.1","t":4.5,"v":2500},{"s":"34.1","t":5,"v":3050},{"s":"34.1","t":5.5,"v":3650},{"s":"34.1","t":6,"v":4300},{"s":"34.1","t":6.5,"v":5000},{"s":"34.1","t":7,"v":5950},{"s":"34.1","t":7.5,"v":6800},{"s":"34.1","t":8,"v":7600},{"s":"34.1","t":8.5,"v":8300},{"s":"34.1","t":9,"v":8950},{"s":"34.1","t":9.5,"v":9700},{"s":"34.1","t":10,"v":10250},{"s":"34.1","t":10.5,"v":10450},{"s":"34.1","t":11,"v":10600},{"s":"34.1","t":11.5,"v":10750},{"s":"34.1","t":12,"v":10900},{"s":"34.1","t":12.5,"v":11050},{"s":"34.1","t":13,"v":11300},{"s":"34.1","t":13.5,"v":11450},{"s":"34.1","t":14,"v":11550},{"s":"34.1","t":14.5,"v":11750},{"s":"34.1","t":15,"v":11850},{"s":"34.1","t":15.5,"v":11950},{"s":"34.1","t":16,"v":12100},{"s":"34.1","t":16.5,"v":12200},{"s":"34.1","t":17,"v":12380},{"s":"34.1","t":17.5,"v":12420},{"s":"34.1","t":18,"v":12430},{"s":"34.1","t":18.25,"v":12380},
{"s":"32.8","t":0,"v":0},{"s":"32.8","t":0.5,"v":100},{"s":"32.8","t":1,"v":240},{"s":"32.8","t":1.5,"v":430},{"s":"32.8","t":2,"v":660},{"s":"32.8","t":2.5,"v":930},{"s":"32.8","t":3,"v":1240},{"s":"32.8","t":3.5,"v":1580},{"s":"32.8","t":4,"v":1950},{"s":"32.8","t":4.5,"v":2400},{"s":"32.8","t":5,"v":2950},{"s":"32.8","t":5.5,"v":3600},{"s":"32.8","t":6,"v":4250},{"s":"32.8","t":6.5,"v":4950},{"s":"32.8","t":7,"v":5800},{"s":"32.8","t":7.5,"v":6650},{"s":"32.8","t":8,"v":7450},{"s":"32.8","t":8.5,"v":8200},{"s":"32.8","t":9,"v":8850},{"s":"32.8","t":9.5,"v":9300},{"s":"32.8","t":10,"v":9580},{"s":"32.8","t":10.5,"v":9750},{"s":"32.8","t":11,"v":9900},{"s":"32.8","t":11.5,"v":10100},{"s":"32.8","t":12,"v":10250},{"s":"32.8","t":12.5,"v":10400},{"s":"32.8","t":13,"v":10480},{"s":"32.8","t":13.5,"v":10530},{"s":"32.8","t":14,"v":10600},{"s":"32.8","t":14.5,"v":10650},{"s":"32.8","t":15,"v":10680},{"s":"32.8","t":15.5,"v":10700},{"s":"32.8","t":16,"v":10730},{"s":"32.8","t":16.5,"v":10780},{"s":"32.8","t":17,"v":10800},{"s":"32.8","t":17.5,"v":10800},{"s":"32.8","t":18,"v":10900},{"s":"32.8","t":18.25,"v":10850},
{"s":"31.0","t":0,"v":0},{"s":"31.0","t":0.5,"v":90},{"s":"31.0","t":1,"v":210},{"s":"31.0","t":1.5,"v":380},{"s":"31.0","t":2,"v":580},{"s":"31.0","t":2.5,"v":810},{"s":"31.0","t":3,"v":1080},{"s":"31.0","t":3.5,"v":1380},{"s":"31.0","t":4,"v":1720},{"s":"31.0","t":4.5,"v":2100},{"s":"31.0","t":5,"v":2550},{"s":"31.0","t":5.5,"v":3050},{"s":"31.0","t":6,"v":3600},{"s":"31.0","t":6.5,"v":4250},{"s":"31.0","t":7,"v":4900},{"s":"31.0","t":7.5,"v":5700},{"s":"31.0","t":8,"v":6500},{"s":"31.0","t":8.5,"v":7300},{"s":"31.0","t":9,"v":8100},{"s":"31.0","t":9.5,"v":8700},{"s":"31.0","t":10,"v":9300},{"s":"31.0","t":10.5,"v":9450},{"s":"31.0","t":11,"v":9650},{"s":"31.0","t":11.5,"v":9850},{"s":"31.0","t":12,"v":10000},{"s":"31.0","t":12.5,"v":10100},{"s":"31.0","t":13,"v":10250},{"s":"31.0","t":13.5,"v":10380},{"s":"31.0","t":14,"v":10300},{"s":"31.0","t":14.5,"v":10320},{"s":"31.0","t":15,"v":10380},{"s":"31.0","t":15.5,"v":10370},{"s":"31.0","t":16,"v":10400},{"s":"31.0","t":16.5,"v":10420},{"s":"31.0","t":17,"v":10480},{"s":"31.0","t":17.5,"v":10610},{"s":"31.0","t":18,"v":10610},{"s":"31.0","t":18.25,"v":10510},
{"s":"30.5","t":0,"v":0},{"s":"30.5","t":0.5,"v":80},{"s":"30.5","t":1,"v":190},{"s":"30.5","t":1.5,"v":340},{"s":"30.5","t":2,"v":520},{"s":"30.5","t":2.5,"v":730},{"s":"30.5","t":3,"v":970},{"s":"30.5","t":3.5,"v":1240},{"s":"30.5","t":4,"v":1550},{"s":"30.5","t":4.5,"v":1850},{"s":"30.5","t":5,"v":2180},{"s":"30.5","t":5.5,"v":2600},{"s":"30.5","t":6,"v":3100},{"s":"30.5","t":6.5,"v":3600},{"s":"30.5","t":7,"v":4200},{"s":"30.5","t":7.5,"v":5000},{"s":"30.5","t":8,"v":6000},{"s":"30.5","t":8.5,"v":6850},{"s":"30.5","t":9,"v":7550},{"s":"30.5","t":9.5,"v":8100},{"s":"30.5","t":10,"v":8700},{"s":"30.5","t":10.5,"v":9000},{"s":"30.5","t":11,"v":9150},{"s":"30.5","t":11.5,"v":9250},{"s":"30.5","t":12,"v":9400},{"s":"30.5","t":12.5,"v":9550},{"s":"30.5","t":13,"v":9620},{"s":"30.5","t":13.5,"v":9660},{"s":"30.5","t":14,"v":9770},{"s":"30.5","t":14.5,"v":9820},{"s":"30.5","t":15,"v":9840},{"s":"30.5","t":15.5,"v":9820},{"s":"30.5","t":16,"v":9850},{"s":"30.5","t":16.5,"v":9870},{"s":"30.5","t":17,"v":9890},{"s":"30.5","t":17.5,"v":9900},{"s":"30.5","t":18,"v":9890},{"s":"30.5","t":18.25,"v":9890},
{"s":"28.9","t":0,"v":0},{"s":"28.9","t":0.5,"v":60},{"s":"28.9","t":1,"v":150},{"s":"28.9","t":1.5,"v":280},{"s":"28.9","t":2,"v":440},{"s":"28.9","t":2.5,"v":620},{"s":"28.9","t":3,"v":830},{"s":"28.9","t":3.5,"v":1060},{"s":"28.9","t":4,"v":1310},{"s":"28.9","t":4.5,"v":1580},{"s":"28.9","t":5,"v":1830},{"s":"28.9","t":5.5,"v":2100},{"s":"28.9","t":6,"v":2500},{"s":"28.9","t":6.5,"v":2950},{"s":"28.9","t":7,"v":3400},{"s":"28.9","t":7.5,"v":3800},{"s":"28.9","t":8,"v":4350},{"s":"28.9","t":8.5,"v":5200},{"s":"28.9","t":9,"v":6150},{"s":"28.9","t":9.5,"v":6900},{"s":"28.9","t":10,"v":7850},{"s":"28.9","t":10.5,"v":8450},{"s":"28.9","t":11,"v":8850},{"s":"28.9","t":11.5,"v":9100},{"s":"28.9","t":12,"v":9300},{"s":"28.9","t":12.5,"v":9380},{"s":"28.9","t":13,"v":9500},{"s":"28.9","t":13.5,"v":9600},{"s":"28.9","t":14,"v":9550},{"s":"28.9","t":14.5,"v":9730},{"s":"28.9","t":15,"v":9550},{"s":"28.9","t":15.5,"v":9700},{"s":"28.9","t":16,"v":9680},{"s":"28.9","t":16.5,"v":9760},{"s":"28.9","t":17,"v":9850},{"s":"28.9","t":17.5,"v":9880},{"s":"28.9","t":18,"v":9990},{"s":"28.9","t":18.25,"v":9880},
{"s":"27.2","t":0,"v":0},{"s":"27.2","t":0.5,"v":50},{"s":"27.2","t":1,"v":120},{"s":"27.2","t":1.5,"v":220},{"s":"27.2","t":2,"v":350},{"s":"27.2","t":2.5,"v":500},{"s":"27.2","t":3,"v":670},{"s":"27.2","t":3.5,"v":860},{"s":"27.2","t":4,"v":1070},{"s":"27.2","t":4.5,"v":1300},{"s":"27.2","t":5,"v":1530},{"s":"27.2","t":5.5,"v":1770},{"s":"27.2","t":6,"v":2000},{"s":"27.2","t":6.5,"v":2350},{"s":"27.2","t":7,"v":2750},{"s":"27.2","t":7.5,"v":3150},{"s":"27.2","t":8,"v":3550},{"s":"27.2","t":8.5,"v":3950},{"s":"27.2","t":9,"v":4700},{"s":"27.2","t":9.5,"v":5450},{"s":"27.2","t":10,"v":6350},{"s":"27.2","t":10.5,"v":7200},{"s":"27.2","t":11,"v":7750},{"s":"27.2","t":11.5,"v":8250},{"s":"27.2","t":12,"v":8700},{"s":"27.2","t":12.5,"v":8900},{"s":"27.2","t":13,"v":9100},{"s":"27.2","t":13.5,"v":9170},{"s":"27.2","t":14,"v":9210},{"s":"27.2","t":14.5,"v":9250},{"s":"27.2","t":15,"v":9270},{"s":"27.2","t":15.5,"v":9270},{"s":"27.2","t":16,"v":9230},{"s":"27.2","t":16.5,"v":9300},{"s":"27.2","t":17,"v":9410},{"s":"27.2","t":17.5,"v":9360},{"s":"27.2","t":18,"v":9420},{"s":"27.2","t":18.25,"v":9460},
{"s":"26.3","t":0,"v":0},{"s":"26.3","t":0.5,"v":40},{"s":"26.3","t":1,"v":100},{"s":"26.3","t":1.5,"v":180},{"s":"26.3","t":2,"v":270},{"s":"26.3","t":2.5,"v":380},{"s":"26.3","t":3,"v":500},{"s":"26.3","t":3.5,"v":640},{"s":"26.3","t":4,"v":790},{"s":"26.3","t":4.5,"v":960},{"s":"26.3","t":5,"v":1140},{"s":"26.3","t":5.5,"v":1340},{"s":"26.3","t":6,"v":1550},{"s":"26.3","t":6.5,"v":1760},{"s":"26.3","t":7,"v":1960},{"s":"26.3","t":7.5,"v":2250},{"s":"26.3","t":8,"v":2600},{"s":"26.3","t":8.5,"v":2950},{"s":"26.3","t":9,"v":3350},{"s":"26.3","t":9.5,"v":3800},{"s":"26.3","t":10,"v":4300},{"s":"26.3","t":10.5,"v":5000},{"s":"26.3","t":11,"v":5700},{"s":"26.3","t":11.5,"v":6300},{"s":"26.3","t":12,"v":7100},{"s":"26.3","t":12.5,"v":7650},{"s":"26.3","t":13,"v":8150},{"s":"26.3","t":13.5,"v":8520},{"s":"26.3","t":14,"v":8620},{"s":"26.3","t":14.5,"v":8750},{"s":"26.3","t":15,"v":8880},{"s":"26.3","t":15.5,"v":8980},{"s":"26.3","t":16,"v":8980},{"s":"26.3","t":16.5,"v":9050},{"s":"26.3","t":17,"v":9150},{"s":"26.3","t":17.5,"v":9250},{"s":"26.3","t":18,"v":9250},{"s":"26.3","t":18.25,"v":9270},
{"s":"24.0","t":0,"v":0},{"s":"24.0","t":0.5,"v":30},{"s":"24.0","t":1,"v":80},{"s":"24.0","t":1.5,"v":140},{"s":"24.0","t":2,"v":210},{"s":"24.0","t":2.5,"v":290},{"s":"24.0","t":3,"v":380},{"s":"24.0","t":3.5,"v":480},{"s":"24.0","t":4,"v":590},{"s":"24.0","t":4.5,"v":710},{"s":"24.0","t":5,"v":840},{"s":"24.0","t":5.5,"v":980},{"s":"24.0","t":6,"v":1130},{"s":"24.0","t":6.5,"v":1300},{"s":"24.0","t":7,"v":1480},{"s":"24.0","t":7.5,"v":1680},{"s":"24.0","t":8,"v":1880},{"s":"24.0","t":8.5,"v":2120},{"s":"24.0","t":9,"v":2400},{"s":"24.0","t":9.5,"v":2700},{"s":"24.0","t":10,"v":3050},{"s":"24.0","t":10.5,"v":3400},{"s":"24.0","t":11,"v":3750},{"s":"24.0","t":11.5,"v":4150},{"s":"24.0","t":12,"v":4800},{"s":"24.0","t":12.5,"v":5600},{"s":"24.0","t":13,"v":6250},{"s":"24.0","t":13.5,"v":6880},{"s":"24.0","t":14,"v":7400},{"s":"24.0","t":14.5,"v":7800},{"s":"24.0","t":15,"v":8200},{"s":"24.0","t":15.5,"v":8380},{"s":"24.0","t":16,"v":8550},{"s":"24.0","t":16.5,"v":8700},{"s":"24.0","t":17,"v":8800},{"s":"24.0","t":17.5,"v":8870},{"s":"24.0","t":18,"v":8950},{"s":"24.0","t":18.25,"v":8980},
{"s":"23.6","t":0,"v":0},{"s":"23.6","t":0.5,"v":20},{"s":"23.6","t":1,"v":60},{"s":"23.6","t":1.5,"v":110},{"s":"23.6","t":2,"v":160},{"s":"23.6","t":2.5,"v":220},{"s":"23.6","t":3,"v":290},{"s":"23.6","t":3.5,"v":370},{"s":"23.6","t":4,"v":450},{"s":"23.6","t":4.5,"v":540},{"s":"23.6","t":5,"v":640},{"s":"23.6","t":5.5,"v":750},{"s":"23.6","t":6,"v":870},{"s":"23.6","t":6.5,"v":1000},{"s":"23.6","t":7,"v":1140},{"s":"23.6","t":7.5,"v":1290},{"s":"23.6","t":8,"v":1450},{"s":"23.6","t":8.5,"v":1620},{"s":"23.6","t":9,"v":1750},{"s":"23.6","t":9.5,"v":1900},{"s":"23.6","t":10,"v":2050},{"s":"23.6","t":10.5,"v":2350},{"s":"23.6","t":11,"v":2700},{"s":"23.6","t":11.5,"v":3000},{"s":"23.6","t":12,"v":3400},{"s":"23.6","t":12.5,"v":3750},{"s":"23.6","t":13,"v":4100},{"s":"23.6","t":13.5,"v":4650},{"s":"23.6","t":14,"v":5150},{"s":"23.6","t":14.5,"v":5750},{"s":"23.6","t":15,"v":6250},{"s":"23.6","t":15.5,"v":6600},{"s":"23.6","t":16,"v":6850},{"s":"23.6","t":16.5,"v":7150},{"s":"23.6","t":17,"v":7590},{"s":"23.6","t":17.5,"v":8100},{"s":"23.6","t":18,"v":8180},{"s":"23.6","t":18.25,"v":8310},
{"s":"21.5","t":0,"v":0},{"s":"21.5","t":0.5,"v":20},{"s":"21.5","t":1,"v":50},{"s":"21.5","t":1.5,"v":90},{"s":"21.5","t":2,"v":140},{"s":"21.5","t":2.5,"v":190},{"s":"21.5","t":3,"v":250},{"s":"21.5","t":3.5,"v":310},{"s":"21.5","t":4,"v":380},{"s":"21.5","t":4.5,"v":460},{"s":"21.5","t":5,"v":550},{"s":"21.5","t":5.5,"v":650},{"s":"21.5","t":6,"v":760},{"s":"21.5","t":6.5,"v":880},{"s":"21.5","t":7,"v":1000},{"s":"21.5","t":7.5,"v":1130},{"s":"21.5","t":8,"v":1270},{"s":"21.5","t":8.5,"v":1420},{"s":"21.5","t":9,"v":1560},{"s":"21.5","t":9.5,"v":1700},{"s":"21.5","t":10,"v":1850},{"s":"21.5","t":10.5,"v":1980},{"s":"21.5","t":11,"v":2200},{"s":"21.5","t":11.5,"v":2500},{"s":"21.5","t":12,"v":2850},{"s":"21.5","t":12.5,"v":3250},{"s":"21.5","t":13,"v":3700},{"s":"21.5","t":13.5,"v":4150},{"s":"21.5","t":14,"v":4600},{"s":"21.5","t":14.5,"v":5000},{"s":"21.5","t":15,"v":5350},{"s":"21.5","t":15.5,"v":5700},{"s":"21.5","t":16,"v":5950},{"s":"21.5","t":16.5,"v":6250},{"s":"21.5","t":17,"v":6540},{"s":"21.5","t":17.5,"v":6750},{"s":"21.5","t":18,"v":6950},{"s":"21.5","t":18.25,"v":7060},
{"s":"20.8","t":0,"v":0},{"s":"20.8","t":0.5,"v":10},{"s":"20.8","t":1,"v":30},{"s":"20.8","t":1.5,"v":60},{"s":"20.8","t":2,"v":100},{"s":"20.8","t":2.5,"v":150},{"s":"20.8","t":3,"v":200},{"s":"20.8","t":3.5,"v":260},{"s":"20.8","t":4,"v":330},{"s":"20.8","t":4.5,"v":410},{"s":"20.8","t":5,"v":500},{"s":"20.8","t":5.5,"v":600},{"s":"20.8","t":6,"v":700},{"s":"20.8","t":6.5,"v":820},{"s":"20.8","t":7,"v":950},{"s":"20.8","t":7.5,"v":1080},{"s":"20.8","t":8,"v":1220},{"s":"20.8","t":8.5,"v":1360},{"s":"20.8","t":9,"v":1500},{"s":"20.8","t":9.5,"v":1650},{"s":"20.8","t":10,"v":1780},{"s":"20.8","t":10.5,"v":1930},{"s":"20.8","t":11,"v":2100},{"s":"20.8","t":11.5,"v":2350},{"s":"20.8","t":12,"v":2700},{"s":"20.8","t":12.5,"v":3100},{"s":"20.8","t":13,"v":3550},{"s":"20.8","t":13.5,"v":4000},{"s":"20.8","t":14,"v":4400},{"s":"20.8","t":14.5,"v":4750},{"s":"20.8","t":15,"v":5100},{"s":"20.8","t":15.5,"v":5400},{"s":"20.8","t":16,"v":5600},{"s":"20.8","t":16.5,"v":5950},{"s":"20.8","t":17,"v":6250},{"s":"20.8","t":17.5,"v":6530},{"s":"20.8","t":18,"v":6850},{"s":"20.8","t":18.25,"v":6970}
]
},
"vconcat":[
{
"width":488,"height":487,
"data":{"name":"A"},
"layer":[
{"mark":{"type":"line","strokeWidth":1.3},
"encoding":{
"x":{"field":"t","type":"quantitative","scale":{"domain":[0,20],"nice":false},"axis":{"values":[0,2,4,6,8,10,12,14,16,18,20],"title":null}},
"y":{"field":"v","type":"quantitative","scale":{"domain":[0,50000],"nice":false},"axis":{"values":[0,5000,10000,15000,20000,25000,30000,35000,40000,45000,50000],"format":"d","title":"Scattered light I-I₀  [a.u.]","titleY":248}},
"color":{"field":"s","type":"nominal","scale":{"domain":["35.7","33.9","33.8","31.7","30.7","29.2","27.2","25.7","23.1","22.8","21.3","20.4"],"range":["#8B1A1A","#FF1A1A","#FF3399","#FF8C1A","#FFFF00","#1EE61E","#158A15","#00FFFF","#218A8A","#1A1AFF","#1010A0","#111111"]},"legend":{"title":"T [°C]"}}
}},
{"data":{"values":[{}]},"mark":{"type":"text","text":"A","fontSize":34,"align":"center","baseline":"alphabetic","color":"#000"},
"encoding":{"x":{"datum":-3.52,"type":"quantitative"},"y":{"datum":46110,"type":"quantitative"}}}
]
},
{
"vconcat":[
{
"width":488,"height":488,
"data":{"name":"B"},
"layer":[
{"mark":{"type":"line","strokeWidth":1.3},
"encoding":{
"x":{"field":"t","type":"quantitative","scale":{"domain":[0,20],"nice":false},"axis":{"values":[0,2,4,6,8,10,12,14,16,18,20],"labels":false,"title":null}},
"y":{"field":"v","type":"quantitative","scale":{"domain":[0,45000],"nice":false},"axis":{"values":[0,5000,10000,15000,20000,25000,30000,35000,40000,45000],"format":"d","title":"Scattered light I-I₀  [a.u.]","titleY":248}},
"color":{"field":"s","type":"nominal","scale":{"domain":["34.9","34.1","32.8","31.0","30.5","28.9","27.2","26.3","24.0","23.6","21.5","20.8"],"range":["#8B1A1A","#FF1A1A","#FF3399","#FF8C1A","#FFFF00","#1EE61E","#158A15","#00FFFF","#218A8A","#1A1AFF","#1010A0","#111111"]},"legend":{"title":"T [°C]"}}
}},
{"data":{"values":[{}]},"mark":{"type":"text","text":"B","fontSize":34,"align":"center","baseline":"alphabetic","color":"#000"},
"encoding":{"x":{"datum":-3.67,"type":"quantitative"},"y":{"datum":41490,"type":"quantitative"}}}
]
},
{
"width":488,"height":487,
"data":{"name":"C"},
"layer":[
{"mark":{"type":"line","strokeWidth":1.3},
"encoding":{
"x":{"field":"t","type":"quantitative","scale":{"domain":[0,20],"nice":false},"axis":{"values":[0,2,4,6,8,10,12,14,16,18,20],"title":"Time   [h]"}},
"y":{"field":"v","type":"quantitative","scale":{"domain":[0,14000],"nice":false},"axis":{"values":[0,2000,4000,6000,8000,10000,12000],"format":"d","title":"GFP fluorescence I-I₀  [a.u.]","titleY":259}},
"color":{"field":"s","type":"nominal","scale":{"domain":["34.9","34.1","32.8","31.0","30.5","28.9","27.2","26.3","24.0","23.6","21.5","20.8"],"range":["#8B1A1A","#FF1A1A","#FF3399","#FF8C1A","#FFFF00","#1EE61E","#158A15","#00FFFF","#218A8A","#1A1AFF","#1010A0","#111111"]},"legend":null}
}},
{"data":{"values":[{}]},"mark":{"type":"text","text":"C","fontSize":34,"align":"center","baseline":"alphabetic","color":"#000"},
"encoding":{"x":{"datum":-3.6,"type":"quantitative"},"y":{"datum":12850,"type":"quantitative"}}}
]
}
],
"spacing":0,
"bounds":"flush",
"resolve":{"scale":{"color":"independent"},"legend":{"color":"independent"}}
}
]
}
